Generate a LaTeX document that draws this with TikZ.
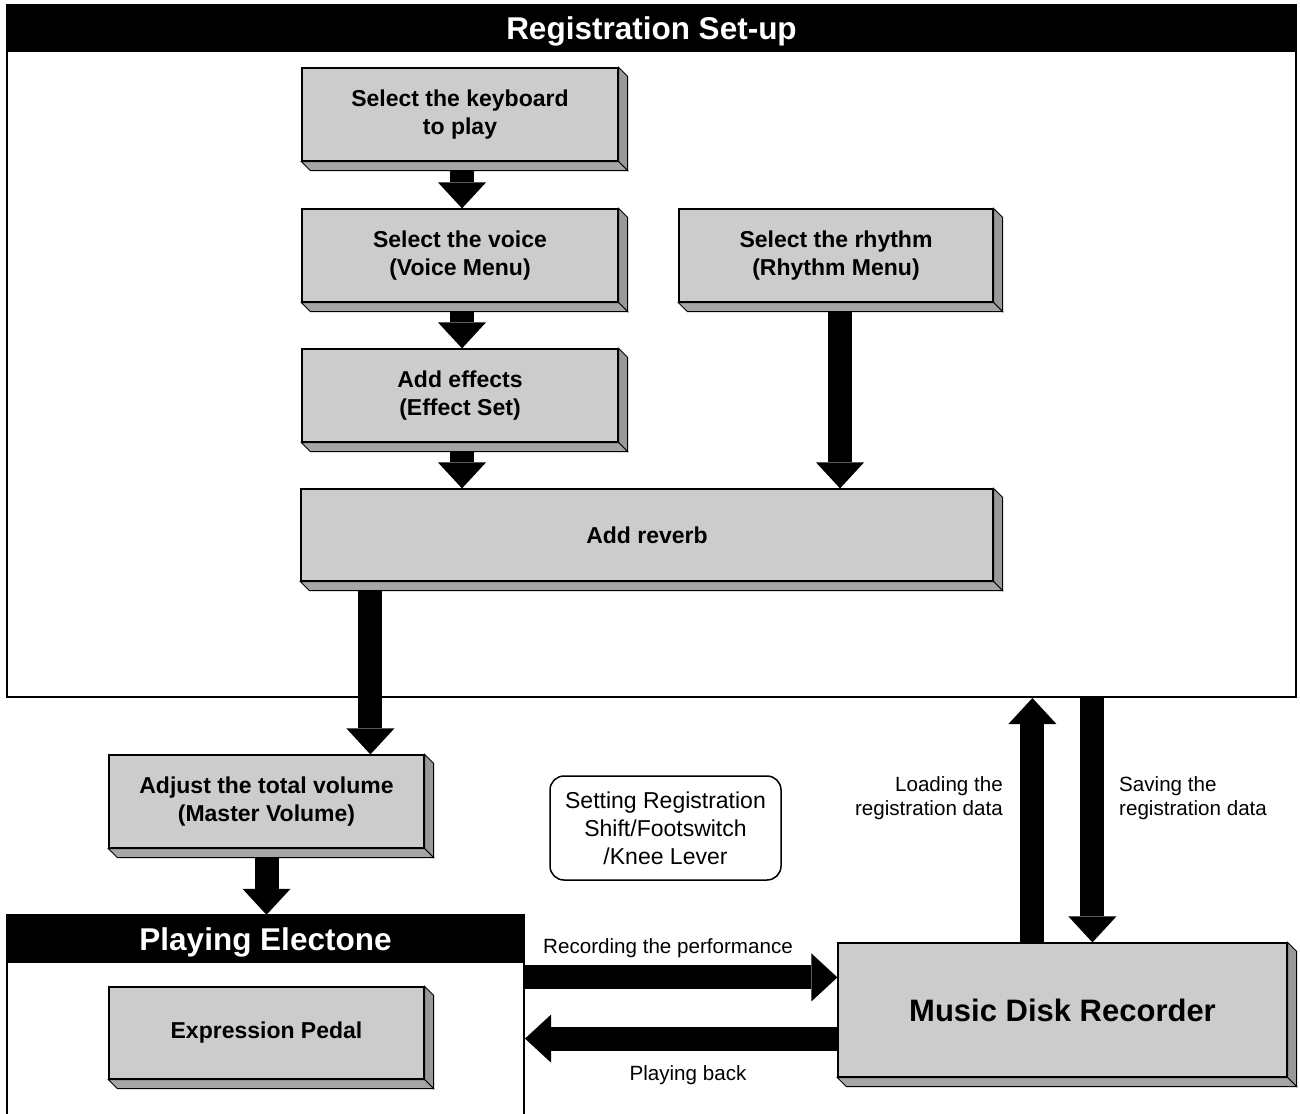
\documentclass[tikz,border=0pt]{standalone}
\usepackage{fontspec}
\setmainfont{Liberation Sans}
\usetikzlibrary{calc,arrows.meta}
\pgfdeclarelayer{sombra}
\pgfsetlayers{sombra,main}
\definecolor{cara}{HTML}{CCCCCC}
\definecolor{lado}{HTML}{999999}
\definecolor{base}{HTML}{A6A6A6}
\tikzstyle{step3d}=[rectangle,draw=black,line width=1.2pt,fill=cara,inner sep=0pt,align=center,font=\bfseries\fontsize{23}{28}\selectfont]
\tikzstyle{titlebar}=[rectangle,fill=black,inner sep=0pt,text=white,text depth=0pt,font=\bfseries\fontsize{31.5}{36}\selectfont]
\tikzstyle{panel}=[rectangle,draw=black,line width=2pt,inner sep=0pt]
\tikzstyle{bigarrow}=[line width=24pt,-{Triangle[width=48pt,length=26pt,line width=0pt]}]
\tikzstyle{note}=[inner sep=0pt,font=\fontsize{20.6}{24}\selectfont]

\begin{document}
\begin{tikzpicture}[x=1pt,y=-1pt]
	\useasboundingbox (0,0) rectangle (1300,1113);
	\clip (0,0) rectangle (1300,1113);
		% registration set-up
		\node [panel, minimum width=1289pt, minimum height=692pt] (setup) at (651.5,351) {};
		\node [titlebar, minimum width=1291pt, minimum height=47pt] (regbar) at (651.5,28.5) {Registration Set-up};
		\node [step3d, minimum width=316pt, minimum height=93pt] (kbd) at (460,114.5) {Select the keyboard\\to play};
		\node [step3d, minimum width=316pt, minimum height=93pt] (voice) at (460,255.5) {Select the voice\\(Voice Menu)};
		\node [step3d, minimum width=314pt, minimum height=93pt] (rhythm) at (836,255.5) {Select the rhythm\\(Rhythm Menu)};
		\node [step3d, minimum width=316pt, minimum height=93pt] (effect) at (460,395.5) {Add effects\\(Effect Set)};
		\node [step3d, minimum width=692pt, minimum height=92pt] (reverb) at (647,535) {Add reverb};
		% outside
		\node [step3d, minimum width=315pt, minimum height=93pt] (master) at (266.5,801.5) {Adjust the total volume\\(Master Volume)};
		\node [note, draw, line width=1.5pt, rounded corners=14pt, minimum width=231pt, minimum height=104pt, align=center, font=\fontsize{23}{28}\selectfont] (regshift) at (665.5,828) {Setting Registration\\Shift/Footswitch\\/Knee Lever};
		\node [panel, minimum width=517pt, minimum height=230pt] (playing) at (265.5,1030) {};
		\node [titlebar, minimum width=519pt, minimum height=48pt] (playbar) at (265.5,939) {Playing Electone};
		\node [step3d, minimum width=315pt, minimum height=92pt] (pedal) at (266.5,1033) {Expression Pedal};
		\node [step3d, minimum width=449pt, minimum height=134pt, font=\bfseries\fontsize{31}{36}\selectfont] (mdr) at (1062.5,1010) {Music Disk Recorder};
		% labels
		\node [note, anchor=east, align=right] (loadtxt) at (1003,798) {Loading the\\registration data};
		\node [note, anchor=west, align=left] (savetxt) at (1119,798) {Saving the\\registration data};
		\node [note] (rectxt) at (668,948) {Recording the performance};
		\node [note] (backtxt) at (688,1075) {Playing back};
		% arrows
		\draw [bigarrow] ([xshift=2pt,yshift=-9pt]kbd.south) -- ([xshift=2pt]voice.north);
		\draw [bigarrow] ([xshift=2pt,yshift=-9pt]voice.south) -- ([xshift=2pt]effect.north);
		\draw [bigarrow] ([xshift=2pt,yshift=-9pt]effect.south) -- ([xshift=2pt]effect.south |- reverb.north);
		\draw [bigarrow] ([xshift=4pt,yshift=-9pt]rhythm.south) -- ([xshift=4pt]rhythm.south |- reverb.north);
		\coordinate (revout) at ([shift={(70,9)}]reverb.south west);
		\draw [bigarrow] (revout) -- (revout |- master.north);
		\draw [bigarrow] ([yshift=-9pt]master.south) -- (master.south |- playbar.north);
		\coordinate (recin) at ([yshift=-35pt]mdr.north west);
		\draw [bigarrow] (recin -| playing.east) -- (recin);
		\coordinate (backout) at ([yshift=39pt]mdr.south west);
		\draw [bigarrow] (backout) -- (backout -| playing.east);
		\coordinate (loadout) at ([xshift=195pt]mdr.north west);
		\draw [bigarrow] (loadout) -- (loadout |- setup.south);
		\coordinate (savein) at ([xshift=255pt]mdr.north west);
		\draw [bigarrow] (savein |- setup.south) -- (savein);
		\begin{pgfonlayer}{sombra}
			\fill [white] (0,0) rectangle (1300,1113);
			\foreach \n in {kbd,voice,rhythm,effect,reverb,master,pedal,mdr}{
				\filldraw [fill=lado,draw=black,line width=0.8pt] (\n.north east)--($(\n.north east)+(9,9)$)--($(\n.south east)+(9,9)$)--(\n.south east)--cycle;
				\filldraw [fill=base,draw=black,line width=0.8pt] (\n.south west)--($(\n.south west)+(9,9)$)--($(\n.south east)+(9,9)$)--(\n.south east)--cycle;
			}
		\end{pgfonlayer}
	\end{tikzpicture}
\end{document}
